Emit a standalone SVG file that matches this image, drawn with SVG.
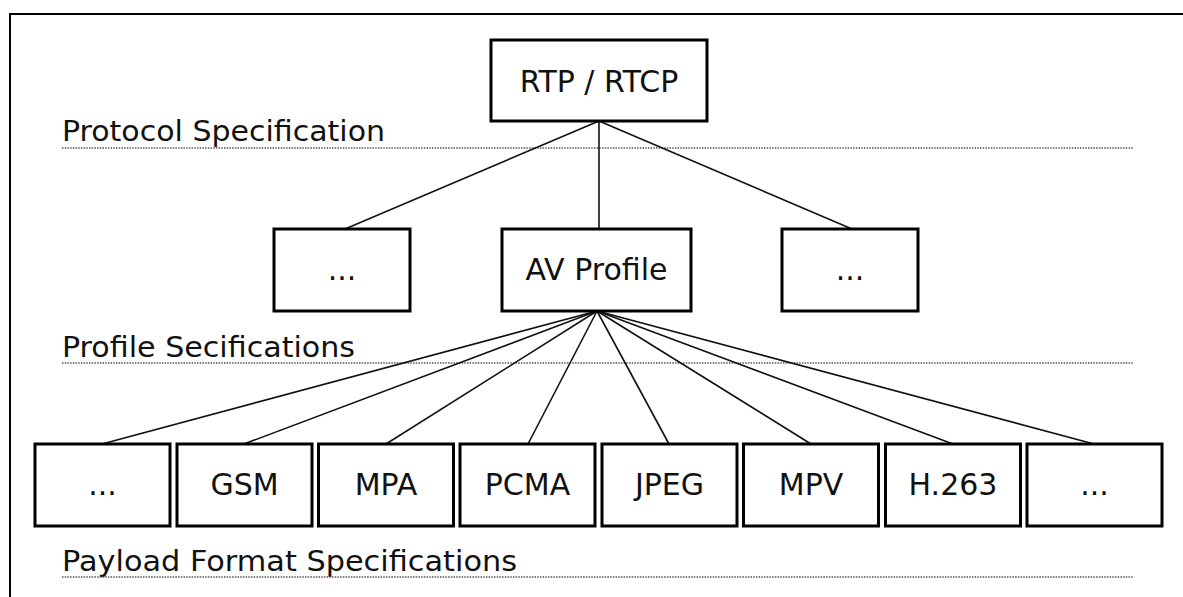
<svg xmlns="http://www.w3.org/2000/svg" width="1183" height="597" viewBox="0 0 1183 597">
<style>
.box{fill:#fff;stroke:#000;stroke-width:3}
.lbl{font-family:"DejaVu Sans",sans-serif;font-size:30px;fill:#111;text-anchor:middle}
.sec{font-family:"DejaVu Sans",sans-serif;font-size:28px;fill:#111}
.dot{stroke:#555;stroke-width:1.3;stroke-dasharray:1.5 1.2;fill:none}
.conn line{stroke:#111;stroke-width:1.6}
</style>
<rect width="1183" height="597" fill="#fff"/>
<path d="M10,597 V14 H1183" fill="none" stroke="#000" stroke-width="2"/>
<g id="sections">
<text class="sec" x="62" y="141" textLength="323" lengthAdjust="spacingAndGlyphs">Protocol Specification</text>
<line class="dot" x1="62" y1="148" x2="1133" y2="148"/>
<text class="sec" x="62" y="357" textLength="293" lengthAdjust="spacingAndGlyphs">Profile Secifications</text>
<line class="dot" x1="62" y1="363" x2="1133" y2="363"/>
<text class="sec" x="62" y="571" textLength="455" lengthAdjust="spacingAndGlyphs">Payload Format Specifications</text>
<line class="dot" x1="62" y1="577" x2="1133" y2="577"/>
</g>
<g id="connectors" class="conn">
<line x1="599" y1="121" x2="345" y2="229"/>
<line x1="599" y1="121" x2="599" y2="229"/>
<line x1="599" y1="121" x2="852" y2="229"/>
<line x1="597" y1="311" x2="102" y2="444"/>
<line x1="597" y1="311" x2="244" y2="444"/>
<line x1="597" y1="311" x2="386" y2="444"/>
<line x1="597" y1="311" x2="528" y2="444"/>
<line x1="597" y1="311" x2="669" y2="444"/>
<line x1="597" y1="311" x2="811" y2="444"/>
<line x1="597" y1="311" x2="953" y2="444"/>
<line x1="597" y1="311" x2="1094" y2="444"/>
</g>
<g id="rtp"><rect class="box" x="491" y="40" width="216" height="81"/><text class="lbl" x="599" y="91.5">RTP / RTCP</text></g>
<g id="prof-left"><rect class="box" x="274" y="229" width="136" height="82"/><text class="lbl" x="342" y="280">...</text></g>
<g id="av"><rect class="box" x="502" y="229" width="189" height="82"/><text class="lbl" x="596.5" y="280">AV Profile</text></g>
<g id="prof-right"><rect class="box" x="782" y="229" width="136" height="82"/><text class="lbl" x="850" y="280">...</text></g>
<g id="p1"><rect class="box" x="35" y="444" width="135" height="82"/><text class="lbl" x="102.5" y="495">...</text></g>
<g id="gsm"><rect class="box" x="177" y="444" width="135" height="82"/><text class="lbl" x="244.5" y="495">GSM</text></g>
<g id="mpa"><rect class="box" x="318.5" y="444" width="135" height="82"/><text class="lbl" x="386" y="495">MPA</text></g>
<g id="pcma"><rect class="box" x="460" y="444" width="135" height="82"/><text class="lbl" x="527.5" y="495">PCMA</text></g>
<g id="jpeg"><rect class="box" x="602" y="444" width="135" height="82"/><text class="lbl" x="669.5" y="495">JPEG</text></g>
<g id="mpv"><rect class="box" x="743.5" y="444" width="135" height="82"/><text class="lbl" x="811" y="495">MPV</text></g>
<g id="h263"><rect class="box" x="885.5" y="444" width="135" height="82"/><text class="lbl" x="953" y="495">H.263</text></g>
<g id="p8"><rect class="box" x="1027" y="444" width="135" height="82"/><text class="lbl" x="1094.5" y="495">...</text></g>
</svg>
